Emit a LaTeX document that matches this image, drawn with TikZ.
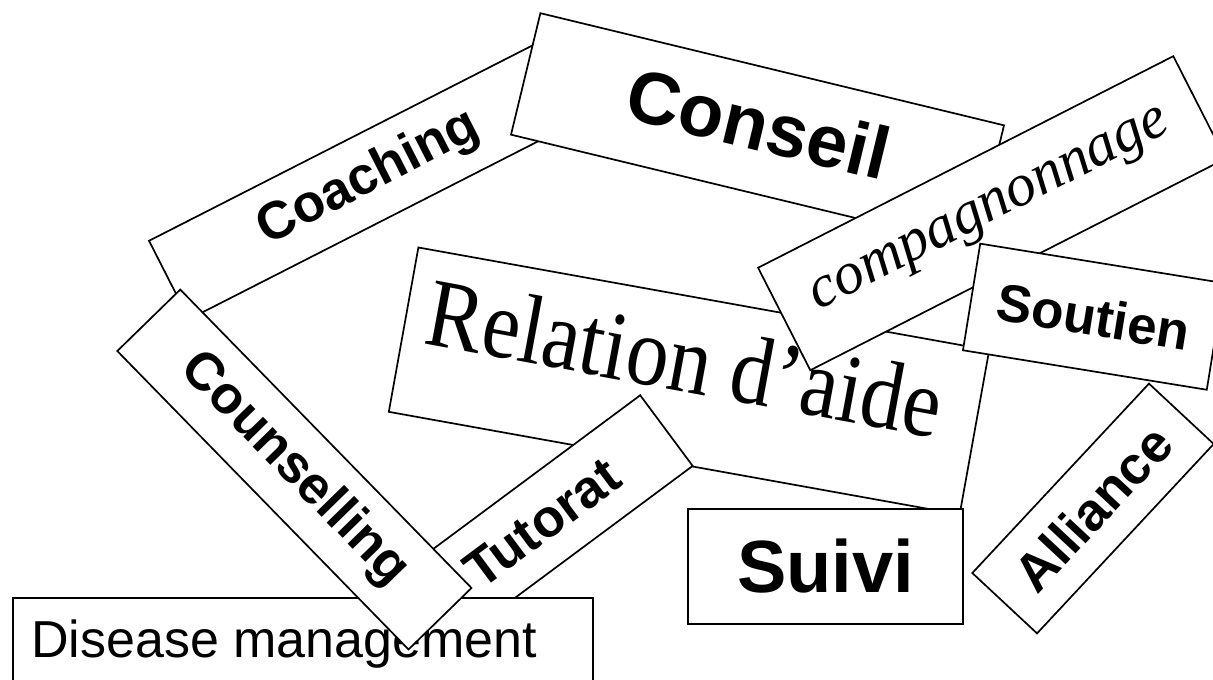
\documentclass[tikz,border=0pt]{standalone}
\usepackage{fontspec}
\setmainfont{Liberation Serif}
\setsansfont{Liberation Sans}
\usetikzlibrary{positioning}

\newcommand{\wsize}[1]{\fontsize{#1}{#1}\selectfont}

\begin{document}
\begin{tikzpicture}[x=1pt, y=-1pt,
  card/.style={draw, fill=white, line width=1.7pt, inner sep=0pt},
  word/.style={card, font=\sffamily\bfseries\wsize{53}},
  bigword/.style={card, font=\sffamily\bfseries\wsize{74}}]
  \clip (0, 0) rectangle (1213, 680);
  \fill [white] (0, 0) rectangle (1213, 680);

  % back row
  \node [word, rotate=27, minimum width=448pt, minimum height=88pt] (coaching) at (368.6, 178.3) {Coaching};
  \node [bigword, rotate=-13.6, minimum width=477pt, minimum height=125pt, text depth=14pt] (conseil) at (757.5, 130) {Conseil};
  \node [card, rotate=-10.2, minimum width=580pt, minimum height=167pt] (relation) at (689, 381) {};
  \node [anchor=base, rotate=-10.5, yscale=1.15, inner sep=0pt, font=\rmfamily\wsize{85}] (relationtxt) at (679, 391) {Relation d’aide};
  \node [card, rotate=27, minimum width=466pt, minimum height=115pt, font=\rmfamily\itshape\wsize{60}] (compagnon) at (991.8, 213.2) {compagnonnage};
  \node [word, rotate=-9.2, minimum width=247pt, minimum height=108pt] (soutien) at (1093.5, 316.7) {Soutien};

  % front row
  \node [bigword, minimum width=275pt, minimum height=115pt] (suivi) at (825.5, 566.5) {Suivi};
  \node [word, rotate=47, minimum width=259pt, minimum height=88.5pt] (alliance) at (1093, 508.5) {Alliance};
  \node [word, rotate=36.6, minimum width=310pt, minimum height=88pt] (tutorat) at (542, 523) {Tutorat};
  \node [card, anchor=north west, minimum width=580pt, minimum height=140pt] (disease) at (12, 597) {};
  \node [anchor=base west, inner sep=0pt, font=\sffamily\wsize{52}] (diseasetxt) at ([shift={(19, 60)}]disease.north west) {Disease management};
  \node [word, rotate=-45.7, minimum width=417pt, minimum height=88pt] (counselling) at (294.4, 469.5) {Counselling};
\end{tikzpicture}
\end{document}
